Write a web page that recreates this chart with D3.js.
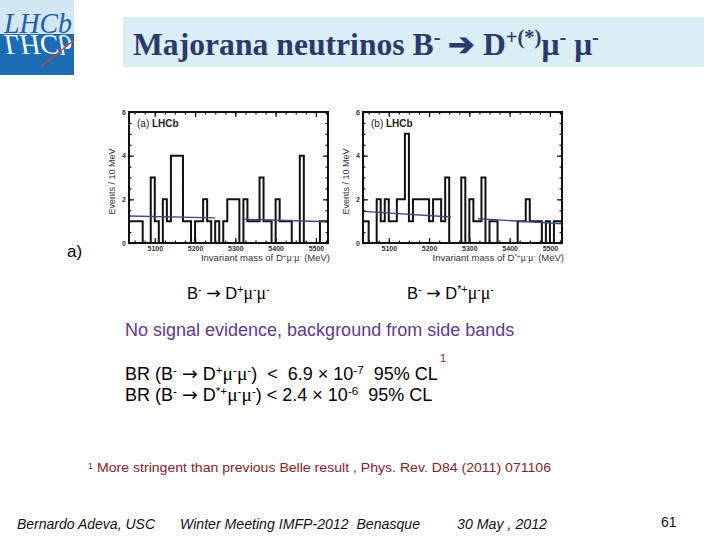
<!DOCTYPE html>
<html>
<head>
<meta charset="utf-8">
<script src="https://cdn.jsdelivr.net/npm/d3@7"></script>
<style>
  body { margin: 0; background: #fff; }
  svg { display: block; }
</style>
</head>
<body>
<svg id="slide" width="720" height="540"></svg>
<script>
// histogram contents, 10 MeV bins starting at 5030 MeV (first bin is clipped by the frame)
const binStart = 5030;
const binWidth = 10;
const countsA = [1, 1, 1, 1, 0, 0, 3, 1, 0, 2, 1, 4, 4, 4, 1, 1, 0, 1, 1, 2, 1, 0, 1, 0, 1,
                 2, 2, 2, 0, 2, 1, 1, 1, 3, 1, 1, 0, 2, 1, 1, 1, 0, 0, 4, 0, 0, 0, 0, 1, 1];
const countsB = [1, 1, 0, 0, 2, 1, 2, 1, 1, 2, 2, 5, 1, 2, 2, 2, 2, 1, 2, 2, 1, 3, 0, 0, 0,
                 3, 0, 2, 1, 1, 3, 0, 1, 1, 0, 0, 0, 0, 0, 1, 1, 2, 1, 1, 1, 0, 1, 0, 1, 1];
// side-band background fits (left band, right band)
const fitA = [[[5036, 1.24], [5250, 1.15]], [[5320, 1.09], [5530, 0.97]]];
const fitB = [[[5036, 1.45], [5255, 1.19]], [[5322, 1.11], [5530, 0.88]]];
const massDomain = [5036, 5530];
const eventDomain = [0, 6];
const massTicks = [5100, 5200, 5300, 5400, 5500];
const eventTicks = [0, 2, 4, 6];

const svg = d3.select("#slide");

// ---- header: logo + title banner
const logo = svg.append("g");
logo.append("rect").attr("x", 0).attr("y", 0).attr("width", 74).attr("height", 34).attr("fill", "#d3e6f4");
logo.append("rect").attr("x", 0).attr("y", 34).attr("width", 74).attr("height", 41).attr("fill", "#1c6cb4");
logo.append("text").attr("x", 4).attr("y", 33)
  .attr("font-family", "Liberation Serif").attr("font-style", "italic").attr("font-size", 30)
  .attr("fill", "#2060aa").attr("textLength", 68).attr("lengthAdjust", "spacingAndGlyphs")
  .text("LHCb");
// mirrored logo word, drawn as reflection below the water line
logo.append("text").attr("x", 4).attr("y", -35)
  .attr("transform", "scale(1,-1)")
  .attr("font-family", "Liberation Serif").attr("font-style", "italic").attr("font-size", 30)
  .attr("fill", "#ffffff").attr("textLength", 68).attr("lengthAdjust", "spacingAndGlyphs")
  .text("LHCb");
logo.append("line").attr("x1", 42).attr("y1", 66).attr("x2", 74).attr("y2", 40)
  .attr("stroke", "#d2453c").attr("stroke-width", 1.3);

svg.append("rect").attr("x", 123).attr("y", 17).attr("width", 581).attr("height", 50).attr("fill", "#dbedf5");

function rich(parent, x, y, parts, attrs) {
  const t = parent.append("text").attr("x", x).attr("y", y);
  Object.entries(attrs).forEach(([k, v]) => t.attr(k, v));
  parts.forEach(p => {
    const s = t.append("tspan").text(p.t);
    if (p.sup) s.attr("baseline-shift", "super").attr("font-size", "65%");
    if (p.mu) s.attr("font-family", "Liberation Serif").attr("font-size", "108%");
    if (p.bold) s.attr("font-weight", "bold");
    if (p.arrow) s.attr("font-family", "DejaVu Sans").attr("font-size", "105%");
  });
  return t;
}

rich(svg, 133, 55, [
  { t: "Majorana neutrinos B" }, { t: "-", sup: true }, { t: " ➔ D" },
  { t: "+(*)", sup: true }, { t: "μ", bold: true }, { t: "-", sup: true },
  { t: " μ", bold: true }, { t: "-", sup: true }
], { "font-family": "Liberation Serif", "font-size": 31, "font-weight": "bold", fill: "#2a3b6b" })
  .attr("textLength", 466).attr("lengthAdjust", "spacingAndGlyphs");

// ---- histograms
const x = d3.scaleLinear().domain(massDomain).range([0, 199]);
const y = d3.scaleLinear().domain(eventDomain).range([131, 0]);

function drawHist(left, counts, fits, tag, dLabel, id) {
  const g = svg.append("g").attr("transform", `translate(${left},112)`);

  g.append("clipPath").attr("id", id).append("rect")
    .attr("width", x.range()[1]).attr("height", y.range()[0]);

  const pts = [[binStart, 0]];
  counts.forEach((c, i) => {
    const lo = binStart + i * binWidth;
    pts.push([lo, c], [lo + binWidth, c]);
  });
  pts.push([binStart + counts.length * binWidth, 0]);

  const line = d3.line().x(d => x(d[0])).y(d => y(d[1]));

  g.append("path").attr("d", line(pts)).attr("clip-path", `url(#${id})`)
    .attr("fill", "none").attr("stroke", "#111").attr("stroke-width", 2);

  fits.forEach(f => {
    g.append("path").attr("d", line(f)).attr("fill", "none")
      .attr("stroke", "#3a4c86").attr("stroke-width", 1.4);
  });

  // ticks inward on all four sides
  const w = x.range()[1], h = y.range()[0];
  const minorX = d3.range(5050, 5530, 25);
  const minorY = d3.range(0, 6.01, 0.5);
  const axes = [
    [d3.axisBottom(x).tickValues(massTicks).tickSize(-5).tickFormat(d3.format("d")), h],
    [d3.axisBottom(x).tickValues(minorX).tickSize(-2.5).tickFormat(""), h],
    [d3.axisTop(x).tickValues(massTicks).tickSize(-5).tickFormat(""), 0],
    [d3.axisTop(x).tickValues(minorX).tickSize(-2.5).tickFormat(""), 0]
  ];
  axes.forEach(([ax, ty]) => {
    g.append("g").attr("transform", `translate(0,${ty})`).call(ax);
  });
  const yAxes = [
    [d3.axisLeft(y).tickValues(eventTicks).tickSize(-5).tickFormat(d3.format("d")), 0],
    [d3.axisLeft(y).tickValues(minorY).tickSize(-2.5).tickFormat(""), 0],
    [d3.axisRight(y).tickValues(eventTicks).tickSize(-5).tickFormat(""), w],
    [d3.axisRight(y).tickValues(minorY).tickSize(-2.5).tickFormat(""), w]
  ];
  yAxes.forEach(([ax, tx]) => {
    g.append("g").attr("transform", `translate(${tx},0)`).call(ax);
  });
  g.selectAll(".domain").remove();
  g.selectAll(".tick line").attr("stroke", "#111").attr("stroke-width", 1.2);
  g.selectAll(".tick text").attr("font-family", "Liberation Sans").attr("font-size", 7)
    .attr("font-weight", "bold").attr("fill", "#333");

  g.append("rect").attr("width", w).attr("height", h)
    .attr("fill", "none").attr("stroke", "#111").attr("stroke-width", 2);

  rich(g, 8, 15, [{ t: "(" + tag + ") " }, { t: "LHCb", bold: true }],
    { "font-family": "Liberation Sans", "font-size": 10, fill: "#222" });

  rich(g, w + 2, h + 18, [
    { t: "Invariant mass of D" }, { t: dLabel, sup: true }, { t: "μ", mu: true },
    { t: "-", sup: true }, { t: "μ", mu: true }, { t: "-", sup: true }, { t: " (MeV)" }
  ], { "font-family": "Liberation Sans", "font-size": 9.5, fill: "#333", "text-anchor": "end" });

  g.append("text").attr("transform", `translate(-14,${h / 2 + 4}) rotate(-90)`)
    .attr("text-anchor", "middle").attr("font-family", "Liberation Sans")
    .attr("font-size", 9).attr("fill", "#333").text("Events / 10 MeV");
}

drawHist(129, countsA, fitA, "a", "+", "clipA");
drawHist(363, countsB, fitB, "b", "*+", "clipB");

// ---- slide text
const sans = { "font-family": "Liberation Sans", "font-size": 16.5, fill: "#000" };
svg.append("text").attr("x", 67).attr("y", 257).attr("font-family", "Liberation Sans")
  .attr("font-size", 17).text("a)");

rich(svg, 187, 299, [
  { t: "B" }, { t: "-", sup: true }, { t: " " }, { t: "→", arrow: true }, { t: " D" }, { t: "+", sup: true },
  { t: "μ", mu: true }, { t: "-", sup: true }, { t: "μ", mu: true }, { t: "-", sup: true }
], sans);
rich(svg, 407, 299, [
  { t: "B" }, { t: "-", sup: true }, { t: " " }, { t: "→", arrow: true }, { t: " D" }, { t: "*+", sup: true },
  { t: "μ", mu: true }, { t: "-", sup: true }, { t: "μ", mu: true }, { t: "-", sup: true }
], sans);

svg.append("text").attr("x", 125).attr("y", 336).attr("font-family", "Liberation Sans")
  .attr("font-size", 18).attr("fill", "#5f3b8a")
  .text("No signal evidence, background from side bands");

const br = { "font-family": "Liberation Sans", "font-size": 18, fill: "#000" };
rich(svg, 125, 380, [
  { t: "BR (B" }, { t: "-", sup: true }, { t: " " }, { t: "→", arrow: true }, { t: " D" }, { t: "+", sup: true },
  { t: "μ", mu: true }, { t: "-", sup: true }, { t: "μ", mu: true }, { t: "-", sup: true },
  { t: ")  <  6.9 × 10" }, { t: "-7", sup: true }, { t: "  95% CL" }
], br).attr("xml:space", "preserve");
rich(svg, 125, 401, [
  { t: "BR (B" }, { t: "-", sup: true }, { t: " " }, { t: "→", arrow: true }, { t: " D" }, { t: "*+", sup: true },
  { t: "μ", mu: true }, { t: "-", sup: true }, { t: "μ", mu: true }, { t: "-", sup: true },
  { t: ") < 2.4 × 10" }, { t: "-6", sup: true }, { t: "  95% CL" }
], br).attr("xml:space", "preserve");
svg.append("text").attr("x", 440).attr("y", 362).attr("font-family", "Liberation Sans")
  .attr("font-size", 11).attr("fill", "#8a2a2a").text("1");

// footnote
svg.append("text").attr("x", 88).attr("y", 469).attr("font-family", "Liberation Sans")
  .attr("font-size", 9).attr("fill", "#84232c").text("1");
svg.append("text").attr("x", 97).attr("y", 472).attr("font-family", "Liberation Sans")
  .attr("font-size", 13.5).attr("fill", "#84232c")
  .attr("textLength", 454).attr("lengthAdjust", "spacingAndGlyphs")
  .text("More stringent than previous Belle result , Phys. Rev. D84 (2011) 071106");

// footer
const foot = [["Bernardo Adeva, USC", 17, 138], ["Winter Meeting IMFP-2012  Benasque", 180, 240], ["30 May , 2012", 457, 90]];
foot.forEach(([t, fx, len]) => {
  svg.append("text").attr("x", fx).attr("y", 529).attr("font-family", "Liberation Sans")
    .attr("font-style", "italic").attr("font-size", 14).attr("fill", "#111")
    .attr("textLength", len).attr("lengthAdjust", "spacingAndGlyphs")
    .attr("xml:space", "preserve").text(t);
});
svg.append("text").attr("x", 661).attr("y", 527).attr("font-family", "Liberation Sans")
  .attr("font-size", 14).attr("fill", "#111").text("61");
</script>
</body>
</html>
